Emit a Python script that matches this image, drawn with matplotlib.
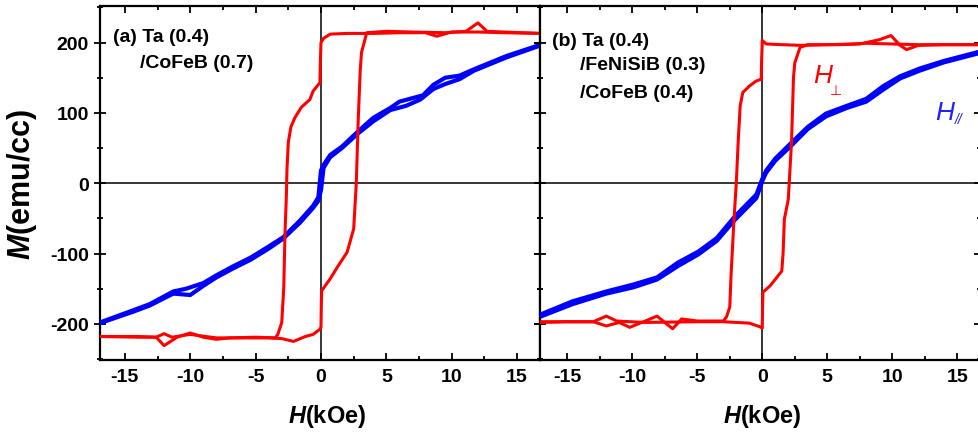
import matplotlib
matplotlib.use("Agg")
from matplotlib import pyplot as plt
from matplotlib.ticker import MultipleLocator

# (a) Ta/CoFeB, perpendicular field (red)
a_perp_down_h = [16.9, 14, 12, 10, 8.85, 8, 6, 4, 2, 0.7, 0.2, 0.0, -0.05, -0.08, -0.6, -0.85, -1.5, -2.0,
                 -2.3, -2.5, -2.6, -2.65, -2.75, -2.85, -3.0, -3.3, -3.5, -5, -7, -8, -9, -10, -11, -12,
                 -12.6, -14, -16.9]
a_perp_down_m = [213, 214, 215, 215, 209, 214, 214, 213, 213, 212, 206, 200, 170, 143, 131, 119, 108, 93,
                 80, 58, 20, -20, -70, -150, -198, -215, -220, -219, -220, -222, -219, -213, -219, -231,
                 -219, -218, -218]
a_perp_up_h = [-16.9, -14, -12.6, -12, -11.4, -10, -8, -6, -4, -3, -2.1, -1.2, -0.6, -0.1, 0.0, 0.02, 0.05,
               0.7, 1.3, 2.0, 2.5, 2.7, 2.8, 2.85, 3.0, 3.1, 3.5, 5, 7, 9.5, 11.1, 12.0, 12.7, 14, 16.8]
a_perp_up_m = [-218, -219, -219, -214, -219, -215, -220, -220, -220, -221, -225, -218, -215, -208, -205,
               -180, -153, -136, -118, -98, -65, 0, 60, 91, 160, 186, 214, 216, 215, 214, 216, 228, 216,
               215, 213]

# (a) in-plane field (blue)
a_par_down_h = [16.8, 14.2, 11.7, 10.6, 9.5, 8.6, 7.8, 7.0, 6.0, 5.3, 4.0, 2.85, 1.6, 0.7, 0.2, 0.0, -0.2,
                -0.6, -1.6, -2.9, -4.0, -5.4, -6.7, -8, -9.0, -10.3, -11.3, -13.1, -14.4, -16.9]
a_par_down_m = [197, 181, 162, 153, 150, 140, 125, 121, 116, 107, 93, 74, 52, 40, 26, 18, -20,
                -32, -53, -77, -90, -106, -118, -131, -142, -150, -154, -172, -181, -198]
a_par_up_h = [-16.9, -14.4, -13.1, -11.3, -10.0, -9.0, -8, -6.7, -5.4, -4.0, -2.9, -1.6, -0.6, -0.2, 0.0,
              0.2, 0.7, 1.6, 2.85, 4.0, 5.3, 6.5, 7.6, 8.6, 9.5, 10.6, 11.7, 14.2, 16.8]
a_par_up_m = [-199, -183, -174, -157, -159, -146, -134, -121, -109, -93, -79, -56, -35, -25, -10,
              22, 37, 50, 71, 88, 104, 110, 119, 134, 141, 148, 160, 179, 196]

# (b) Ta/FeNiSiB/CoFeB, perpendicular field (red)
b_perp_down_h = [16.7, 14, 12, 11.1, 10.6, 9.9, 9.0, 7.5, 5, 3, 1.5, 0.3, 0.0, -0.05, -0.08, -0.5, -1.0,
                 -1.5, -1.7, -1.85, -2.0, -2.2, -2.4, -2.5, -2.75, -3.0, -5, -6.2, -6.9, -7.5, -8.1, -9,
                 -10.2, -11, -12, -13, -15, -17.1]
b_perp_down_m = [197, 197, 196, 190, 196, 210, 204, 198, 197, 196, 197, 198, 203, 175, 148, 145, 138,
                 129, 110, 60, 0, -60, -130, -176, -190, -196, -196, -193, -207, -198, -189, -196,
                 -205, -198, -203, -197, -197, -198]
b_perp_up_h = [-17.1, -13, -12, -11.2, -9, -5, -3, -1, -0.2, 0.0, 0.02, 0.05, 0.6, 1.5, 1.6, 1.7, 2.0,
               2.25, 2.4, 2.5, 2.9, 3.5, 6, 8, 10, 12, 16.7]
b_perp_up_m = [-197, -197, -189, -196, -198, -197, -197, -199, -204, -206, -180, -155, -146, -125,
               -100, -51, -23, 58, 150, 171, 193, 197, 197, 199, 198, 197, 197]

# (b) in-plane field (blue)
b_par_down_h = [16.7, 14, 12.1, 10.6, 9.3, 8.0, 6.5, 4.9, 3.5, 2.1, 1.0, 0.3, 0.0, -0.45, -2.1, -3.5,
                -4.9, -6.5, -8.1, -9.9, -12, -14.6, -17.1]
b_par_down_m = [187, 174, 163, 152, 138, 120, 110, 99, 80, 55, 35, 18, 6, -16, -47, -78,
                -97, -113, -134, -144, -154, -168, -187]
b_par_up_h = [-17.1, -14.6, -12, -9.9, -8.1, -6.5, -4.9, -3.5, -2.1, -0.45, 0.0, 0.3, 1.0, 2.1, 3.5,
              4.9, 6.5, 8.0, 9.3, 10.6, 12.1, 14, 16.7]
b_par_up_m = [-190, -172, -157, -148, -137, -118, -101, -82, -52, -21, 3, 15, 32, 51, 77,
              95, 107, 116, 133, 149, 160, 172, 185]

xticks = [-15, -10, -5, 0, 5, 10, 15]
yticks = [-200, -100, 0, 100, 200]

plt.rcParams['font.family'] = ['Liberation Sans', 'DejaVu Sans']
plt.rcParams['font.weight'] = 'bold'
plt.rcParams['axes.unicode_minus'] = False
plt.rcParams['mathtext.fontset'] = 'custom'
plt.rcParams['mathtext.rm'] = 'Liberation Sans:bold'
plt.rcParams['mathtext.bf'] = 'Liberation Sans:italic:bold'

W, H = 979, 439
fig = plt.figure(figsize=(W / 100, H / 100), dpi=100)


def px(x0, y0, x1, y1):
    return [x0 / W, 1 - y1 / H, (x1 - x0) / W, (y1 - y0) / H]


ax1 = fig.add_axes(px(100, 7, 540, 360.7))
ax2 = fig.add_axes(px(540, 7, 980, 360.7))

for ax, xl in ((ax1, (-16.9, 16.75)), (ax2, (-17.1, 16.75))):
    ax.axhline(0, color='black', lw=1.1, zorder=1)
    ax.axvline(0, color='black', lw=1.1, zorder=1)
    ax.set_xlim(*xl)
    ax.set_ylim(-251, 252)
    ax.set_xticks(xticks)
    ax.set_yticks(yticks)
    ax.xaxis.set_minor_locator(MultipleLocator(2.5))
    ax.yaxis.set_minor_locator(MultipleLocator(50))
    ax.tick_params(axis='x', which='both', direction='in', top=True, bottom=True,
                   labelsize=14, pad=6, width=1.3)
    ax.tick_params(axis='x', which='major', length=5)
    ax.tick_params(axis='x', which='minor', length=3)
    ax.tick_params(axis='y', which='both', direction='inout', left=True, right=True,
                   labelsize=14, pad=4, width=1.3)
    ax.tick_params(axis='y', which='major', length=8)
    ax.tick_params(axis='y', which='minor', length=5)
    for s in ax.spines.values():
        s.set_linewidth(1.6)

ax2.tick_params(axis='y', labelleft=False)

ax1.plot(a_par_down_h, a_par_down_m, color='#0000ff', lw=3.0, zorder=3)
ax1.plot(a_par_up_h, a_par_up_m, color='#0000ff', lw=3.0, zorder=3)
ax1.plot(a_perp_down_h, a_perp_down_m, color='#ff0000', lw=2.2, zorder=4)
ax1.plot(a_perp_up_h, a_perp_up_m, color='#ff0000', lw=2.2, zorder=4)

ax2.plot(b_par_down_h, b_par_down_m, color='#0000ff', lw=3.0, zorder=3)
ax2.plot(b_par_up_h, b_par_up_m, color='#0000ff', lw=3.0, zorder=3)
ax2.plot(b_perp_down_h, b_perp_down_m, color='#ff0000', lw=2.2, zorder=4)
ax2.plot(b_perp_up_h, b_perp_up_m, color='#ff0000', lw=2.2, zorder=4)

# labels
fig.text(327 / W, 1 - 423 / H, r'$\mathbf{H}$(kOe)', fontsize=17, ha='center', va='baseline')
fig.text(762 / W, 1 - 423 / H, r'$\mathbf{H}$(kOe)', fontsize=17, ha='center', va='baseline')
fig.text(22 / W, 1 - 184 / H, r'$\mathbf{M}$(emu/cc)', fontsize=22, rotation=90,
         ha='center', va='center')

fig.text(113 / W, 1 - 37 / H, '(a) Ta (0.4)', fontsize=14, va='center')
fig.text(140 / W, 1 - 63 / H, '/CoFeB (0.7)', fontsize=14, va='center')
fig.text(552 / W, 1 - 42 / H, '(b) Ta (0.4)', fontsize=14, va='center')
fig.text(580 / W, 1 - 66 / H, '/FeNiSiB (0.3)', fontsize=14, va='center')
fig.text(580 / W, 1 - 93 / H, '/CoFeB (0.4)', fontsize=14, va='center')

# field direction labels
fig.text(813 / W, 1 - 83 / H, 'H', fontsize=19, color='#ff0000', va='baseline',
         fontweight='normal', fontstyle='italic')
fig.text(830 / W, 1 - 95 / H, '\u22a5', fontsize=10, color='#ff0000', va='baseline',
         fontweight='normal', family='DejaVu Sans')
fig.text(935 / W, 1 - 120 / H, 'H', fontsize=19, color='#2020ff', va='baseline',
         fontweight='normal', fontstyle='italic')
fig.text(955 / W, 1 - 124 / H, '//', fontsize=10, color='#2020ff', va='baseline',
         fontweight='normal', fontstyle='italic')

fig.savefig("out.png", dpi=100)
